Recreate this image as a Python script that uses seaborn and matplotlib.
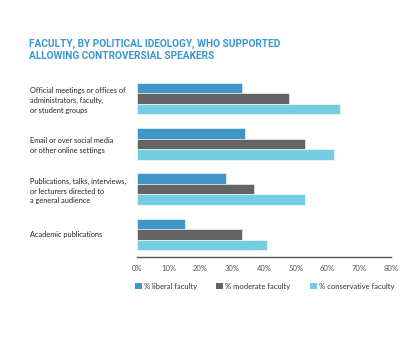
import matplotlib
matplotlib.use("Agg")
import matplotlib.pyplot as plt
import seaborn as sns
import pandas as pd
from matplotlib.patches import Patch
from matplotlib.ticker import FuncFormatter

categories = [
    "Official meetings or offices of\nadministrators, faculty,\nor student groups",
    "Email or over social media\nor other online settings",
    "Publications, talks, interviews,\nor lecturers directed to\na general audience",
    "Academic publications",
]
series_names = ["% liberal faculty", "% moderate faculty", "% conservative faculty"]
liberal = [33, 34, 28, 15]
moderate = [48, 53, 37, 33]
conservative = [64, 62, 53, 41]
x_ticks = [0, 10, 20, 30, 40, 50, 60, 70, 80]
title = "FACULTY, BY POLITICAL IDEOLOGY, WHO SUPPORTED\nALLOWING CONTROVERSIAL SPEAKERS"

colors = ["#4096c8", "#646464", "#74cde0"]

rows = []
for cat, a, b, c in zip(categories, liberal, moderate, conservative):
    rows.append({"cat": cat, "series": series_names[0], "value": a})
    rows.append({"cat": cat, "series": series_names[1], "value": b})
    rows.append({"cat": cat, "series": series_names[2], "value": c})
df = pd.DataFrame(rows)

sns.set_style("white")
plt.rcParams["font.family"] = ["Lato", "DejaVu Sans"]

W, H = 417, 342
fig = plt.figure(figsize=(W / 100, H / 100), dpi=100)
ax = fig.add_axes([137 / W, (H - 257) / H, (391 - 137) / W, (257 - 76) / H])

sns.barplot(data=df, y="cat", x="value", hue="series", order=categories,
            hue_order=series_names, palette=colors, orient="h", width=0.7,
            ax=ax, legend=False, saturation=1, edgecolor="white", linewidth=0.4)

ax.set_xlim(0, 80)
ax.set_ylim(3.5, -0.5)
ax.set_xticks(x_ticks)
ax.xaxis.set_major_formatter(FuncFormatter(lambda v, p: f"{int(v)}%"))
ax.set_xlabel("")
ax.set_ylabel("")
for s in ["top", "right", "left"]:
    ax.spines[s].set_visible(False)
ax.spines["bottom"].set_color("#555555")
ax.spines["bottom"].set_linewidth(1.0)
ax.tick_params(axis="x", length=0, pad=6, labelsize=5.5, labelcolor="#555555")
ax.tick_params(axis="y", length=0, pad=(137 - 30) * 0.72, labelsize=5.3, labelcolor="#222222")
for lab in ax.get_yticklabels():
    lab.set_ha("left")
    lab.set_linespacing(1.45)

fig.text(29 / W, 1 - 38.5 / H, title, color="#3a96d0", fontsize=7.3,
         fontweight="bold", ha="left", va="top", linespacing=1.3,
         family=["Roboto", "DejaVu Sans"])

handles = [Patch(facecolor=c, edgecolor="none") for c in colors]
fig.legend(handles, series_names, loc="center left",
           bbox_to_anchor=(135 / W, 1 - 286 / H), ncol=3, frameon=False,
           fontsize=5.5, handlelength=0.9, handleheight=0.9,
           handletextpad=0.3, columnspacing=2.5, labelcolor="#333333",
           borderaxespad=0, borderpad=0)

fig.savefig("out.png", dpi=100, facecolor="white")
